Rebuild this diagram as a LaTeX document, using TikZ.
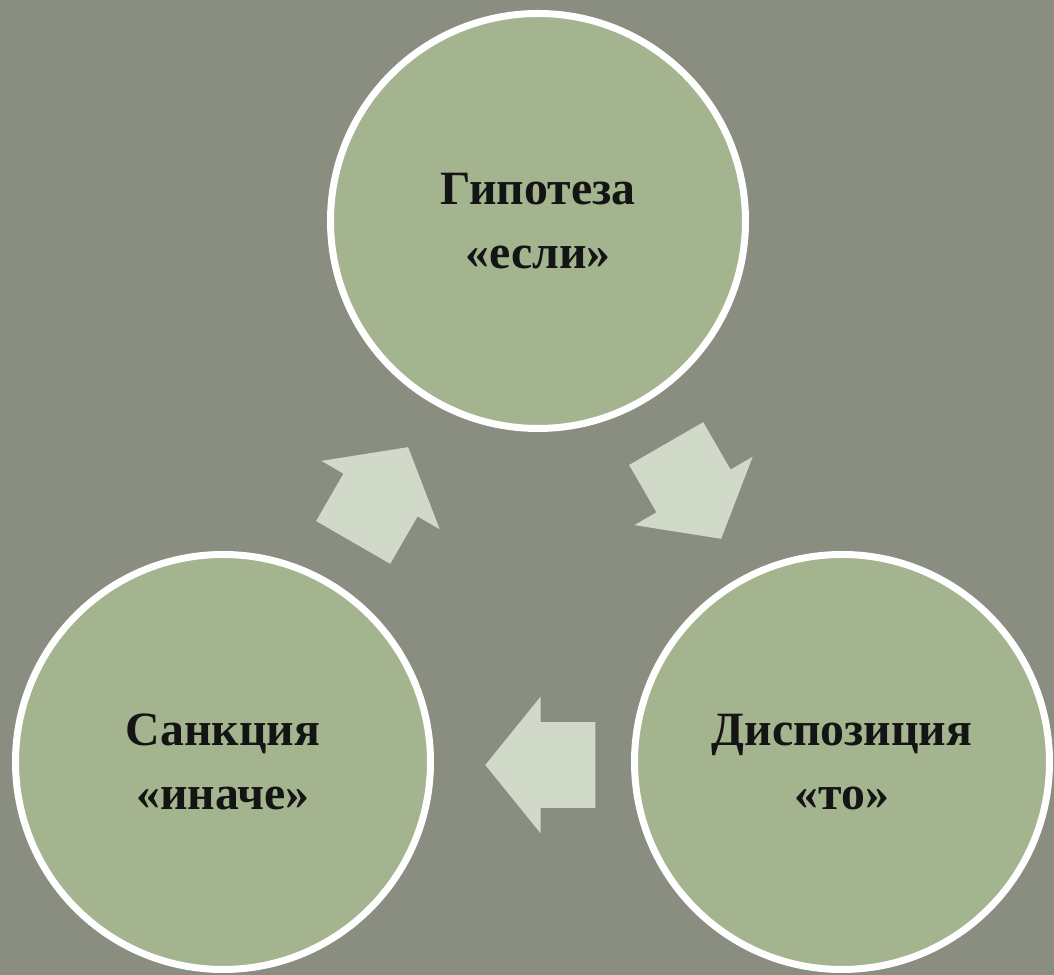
\documentclass[tikz,border=0pt]{standalone}
\usepackage{fontspec}
\setmainfont{Liberation Serif}
\usetikzlibrary{shapes.arrows}
\definecolor{bgcol}{HTML}{8A8E80}
\definecolor{circfill}{HTML}{A3B48F}
\definecolor{arrfill}{HTML}{D1DAC8}
\begin{document}
\begin{tikzpicture}[
    circ/.style={circle, fill=circfill, draw=white, line width=0.175cm, minimum size=10.375cm, align=center, text=black!92, font=\fontsize{34}{46}\selectfont\bfseries},
    blockarrow/.style={single arrow, fill=arrfill, draw=none, inner xsep=0pt, inner ysep=1.0625cm, minimum height=2.75cm, single arrow head extend=0.6375cm, single arrow tip angle=102}]
            \begin{scope}
                \fill[bgcol] (0,0) rectangle (26.35,24.375);
                \node[name=hyp, circ] at (13.45,18.85) (hyp) {Гипотеза\\«если»};
                \node[name=sanc, circ] at (5.575,5.325) (sanc) {Санкция\\«иначе»};
                \node[name=disp, circ] at (21.05,5.325) (disp) {Диспозиция\\«то»};
                \node[name=a1, blockarrow, rotate=60] at (9.3,11.63) (a1) {};
                \node[name=a2, blockarrow, rotate=-60] at (17.125,12.47) (a2) {};
                \node[name=a3, blockarrow, rotate=180] at (13.94,5.25) (a3) {};
            \end{scope}
\end{tikzpicture}
\end{document}
